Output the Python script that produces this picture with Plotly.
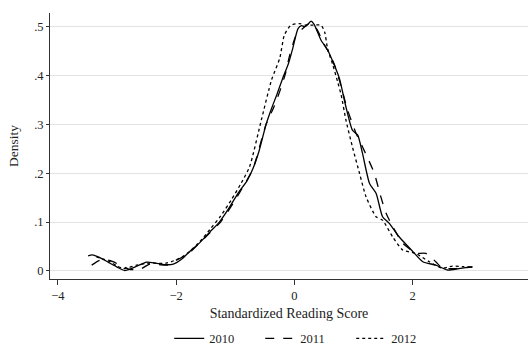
import plotly.graph_objects as go

# 2010 (solid)
x2010 = [-3.49,-3.42,-3.3,-3.15,-3.0,-2.87,-2.7,-2.5,-2.35,-2.2,-2.05,-1.9,-1.77,-1.6,-1.43,-1.27,-1.1,-0.95,-0.8,-0.7,-0.6,-0.48,-0.38,-0.3,-0.2,-0.1,-0.03,0.06,0.12,0.17,0.23,0.28,0.33,0.39,0.45,0.56,0.65,0.76,0.87,0.98,1.07,1.15,1.27,1.38,1.49,1.6,1.77,2.0,2.17,2.39,2.59,2.78,3.01]
y2010 = [0.031,0.033,0.028,0.018,0.008,0.001,0.008,0.018,0.016,0.013,0.014,0.025,0.040,0.058,0.080,0.100,0.130,0.160,0.185,0.210,0.245,0.300,0.335,0.360,0.394,0.425,0.455,0.496,0.502,0.500,0.505,0.511,0.505,0.489,0.472,0.452,0.428,0.394,0.336,0.288,0.278,0.241,0.179,0.159,0.111,0.098,0.070,0.040,0.019,0.012,0.002,0.005,0.009]

# 2011 (dashed)
x2011 = [-3.43,-3.29,-3.15,-3.07,-2.95,-2.78,-2.59,-2.45,-2.3,-2.15,-2.05,-1.9,-1.75,-1.6,-1.43,-1.25,-1.04,-0.88,-0.7,-0.48,-0.35,-0.25,-0.15,-0.08,0.03,0.14,0.25,0.37,0.48,0.59,0.68,0.76,0.9,1.04,1.15,1.25,1.35,1.46,1.55,1.66,1.83,1.95,2.05,2.22,2.39,2.5,2.73,3.01]
y2011 = [0.012,0.022,0.022,0.019,0.012,0.003,0.005,0.014,0.013,0.012,0.019,0.028,0.040,0.058,0.078,0.100,0.138,0.170,0.210,0.300,0.335,0.367,0.405,0.442,0.483,0.496,0.506,0.496,0.469,0.445,0.421,0.390,0.329,0.282,0.254,0.228,0.200,0.152,0.118,0.091,0.057,0.045,0.036,0.036,0.019,0.006,0.005,0.008]

# 2012 (dotted)
x2012 = [-3.35,-3.25,-3.12,-3.0,-2.9,-2.8,-2.67,-2.45,-2.17,-1.94,-1.77,-1.6,-1.43,-1.25,-1.07,-0.9,-0.76,-0.56,-0.39,-0.25,-0.17,-0.06,0.08,0.2,0.32,0.45,0.51,0.56,0.65,0.73,0.79,0.87,0.98,1.10,1.21,1.38,1.49,1.66,1.83,2.05,2.28,2.5,2.67,2.84,3.01]
y2012 = [0.029,0.025,0.019,0.010,0.005,0.007,0.012,0.016,0.016,0.026,0.040,0.060,0.085,0.112,0.145,0.180,0.213,0.309,0.390,0.435,0.483,0.503,0.506,0.503,0.503,0.503,0.489,0.455,0.421,0.387,0.360,0.309,0.254,0.200,0.152,0.111,0.104,0.070,0.043,0.036,0.019,0.006,0.010,0.009,0.008]

xticks = [-4, -2, 0, 2, 4]
yticks = [0, 0.1, 0.2, 0.3, 0.4, 0.5]
yticktext = ["0", ".1", ".2", ".3", ".4", ".5"]

FONT = "Liberation Serif"

fig = go.Figure()
for name, xs, ys, dash in [("2010", x2010, y2010, "solid"),
                           ("2011", x2011, y2011, "dash"),
                           ("2012", x2012, y2012, "dot")]:
    fig.add_trace(go.Scatter(x=xs, y=ys, mode="lines", name=name,
                             line=dict(color="black", width=1.3, dash=dash,
                                       shape="spline", smoothing=0.6)))

fig.update_layout(
    width=528, height=350,
    margin=dict(l=50, r=0, t=13, b=71, autoexpand=False),
    paper_bgcolor="white", plot_bgcolor="white",
    font=dict(family=FONT, size=12.5, color="#222"),
    showlegend=True,
    legend=dict(orientation="h", x=0.535, xanchor="center",
                yref="container", y=0.032, yanchor="middle",
                font=dict(family=FONT, size=12.5), entrywidth=46, entrywidthmode="pixels",
                tracegroupgap=0, bgcolor="rgba(0,0,0,0)"),
    xaxis=dict(range=[-4.135, 3.95], tickvals=xticks, showgrid=False, zeroline=False,
               showline=True, linecolor="#333", linewidth=1, ticks="outside",
               ticklen=5, tickcolor="#333", tickfont=dict(size=12.5),
               title=dict(text="Standardized Reading Score", font=dict(size=14), standoff=6)),
    yaxis=dict(range=[-0.0164, 0.5278], tickvals=yticks, ticktext=yticktext,
               showgrid=True, gridcolor="#e3e3e3", gridwidth=1, zeroline=False,
               showline=True, linecolor="#333", linewidth=1, ticks="outside",
               ticklen=3, tickcolor="#333", tickfont=dict(size=12.5),
               title=dict(text="Density", font=dict(size=13.5), standoff=12)),
)

fig.write_html("out.html")
